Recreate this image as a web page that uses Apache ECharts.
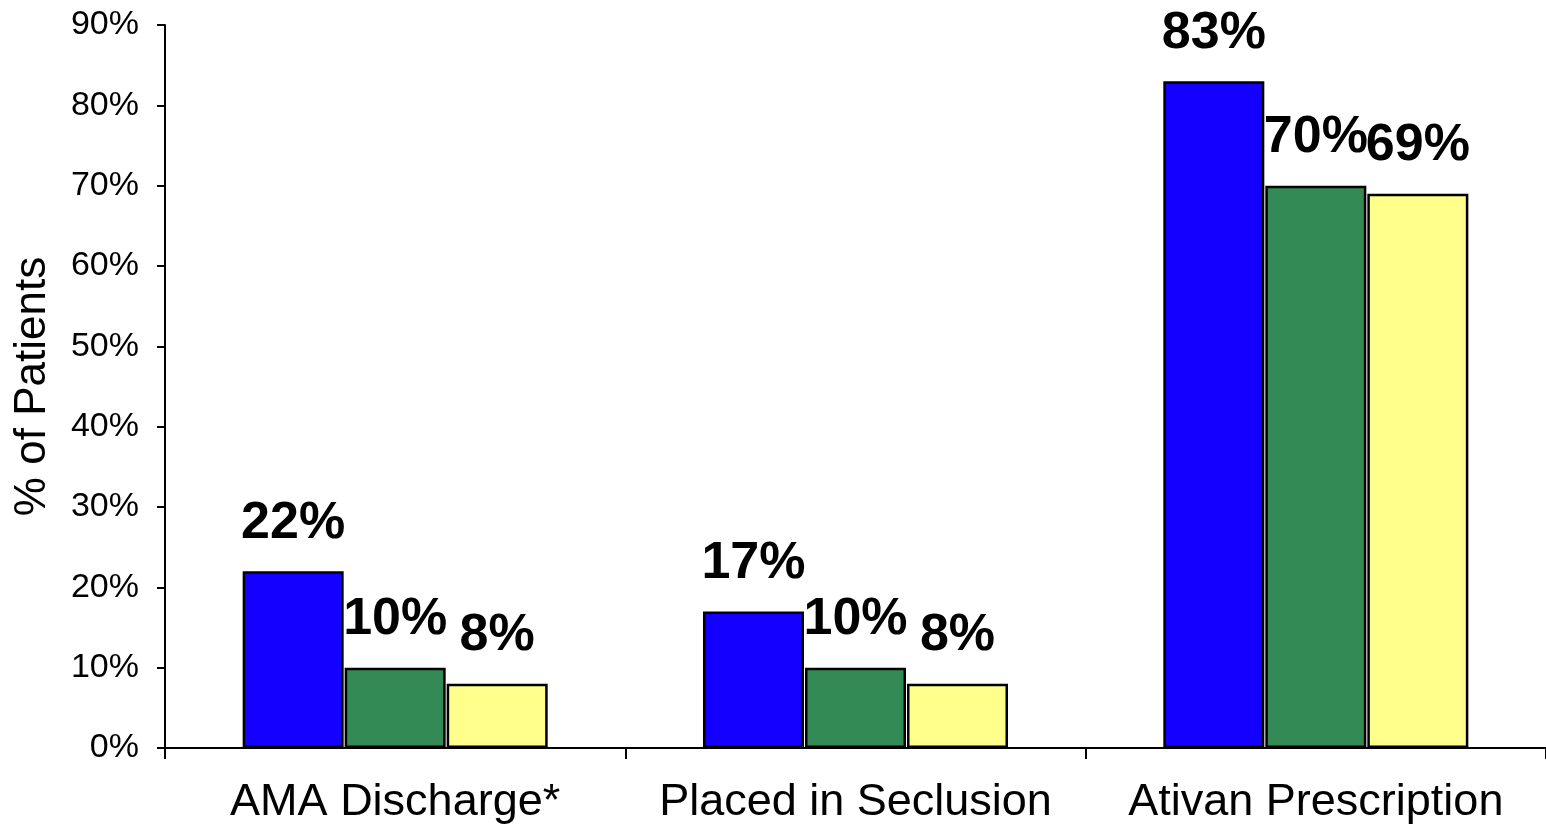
<!DOCTYPE html>
<html>
<head>
<meta charset="utf-8">
<script src="https://cdn.jsdelivr.net/npm/echarts@6/dist/echarts.min.js"></script>
<style>
    html, body { margin: 0; padding: 0; background: #fff; }
    #main { width: 1546px; height: 825px; }
</style>
</head>
<body>
<div id="main"></div>
<script>
// categories and values (percent of patients)
var categories = ['AMA Discharge*', 'Placed in Seclusion', 'Ativan Prescription'];
var blueValues = [22, 17, 83];
var greenValues = [10, 10, 70];
var yellowValues = [8, 8, 69];
var yTicks = [0, 10, 20, 30, 40, 50, 60, 70, 80, 90];

var fontName = '"Liberation Sans", Arial, sans-serif';

function makeSeries(name, values, color) {
    return {
        name: name,
        type: 'bar',
        data: values,
        barWidth: 101,
        barGap: '1%',
        itemStyle: {
            color: color,
            borderColor: '#000',
            borderWidth: 2.5
        },
        label: {
            show: true,
            position: 'top',
            distance: 22,
            formatter: '{c}%',
            color: '#000',
            fontSize: 52,
            fontWeight: 'bold',
            fontFamily: fontName
        }
    };
}

var option = {
    backgroundColor: '#fff',
    animation: false,
    grid: {
        left: 165,
        right: 0,
        top: 25,
        bottom: 76,
        containLabel: false
    },
    xAxis: {
        type: 'category',
        data: categories,
        boundaryGap: true,
        axisLine: { lineStyle: { color: '#000', width: 2 } },
        axisTick: { show: true, alignWithLabel: false, length: 11, lineStyle: { color: '#000', width: 2 } },
        axisLabel: {
            color: '#000',
            fontSize: 45,
            fontFamily: fontName,
            margin: 32,
            interval: 0
        }
    },
    yAxis: {
        type: 'value',
        min: yTicks[0],
        max: yTicks[yTicks.length - 1],
        interval: 10,
        name: '% of Patients',
        nameLocation: 'middle',
        nameGap: 110,
        nameTextStyle: { color: '#000', fontSize: 44, fontFamily: fontName },
        axisLine: { show: true, lineStyle: { color: '#000', width: 2 } },
        axisTick: { show: true, length: 8, lineStyle: { color: '#000', width: 2 } },
        splitLine: { show: false },
        axisLabel: {
            color: '#000',
            fontSize: 34,
            fontFamily: fontName,
            margin: 26,
            formatter: '{value}%'
        }
    },
    series: [
        makeSeries('s1', blueValues, '#1400ff'),
        makeSeries('s2', greenValues, '#338a55'),
        makeSeries('s3', yellowValues, '#ffff8c')
    ]
};

var myChart = echarts.init(document.getElementById('main'));
myChart.setOption(option);
</script>
</body>
</html>
